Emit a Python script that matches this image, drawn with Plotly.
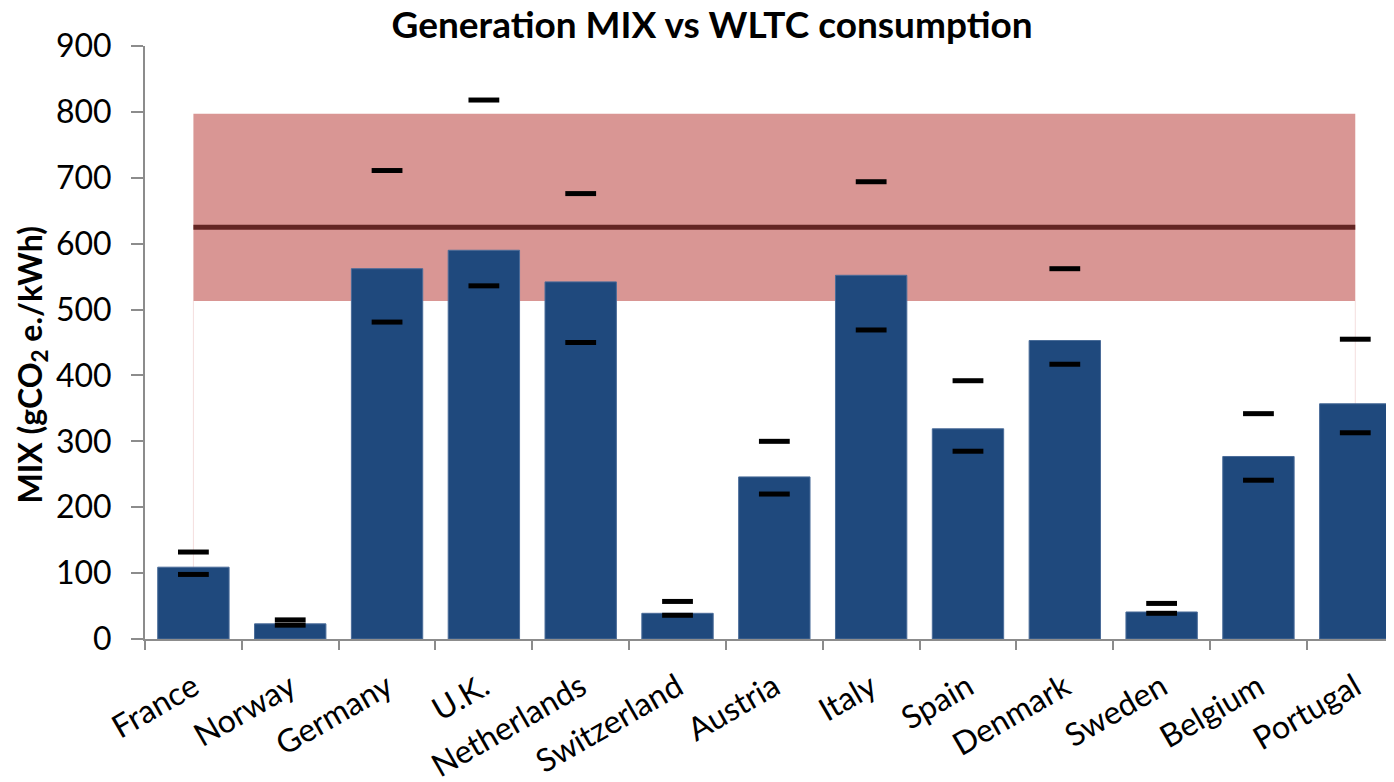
import plotly.graph_objects as go

countries = ["France", "Norway", "Germany", "U.K.", "Netherlands", "Switzerland",
             "Austria", "Italy", "Spain", "Denmark", "Sweden", "Belgium", "Portugal"]
mix_avg = [109, 23, 562, 590, 542, 39, 246, 552, 319, 453, 41, 277, 357]
mix_max = [132, 29, 711, 818, 676, 57, 300, 694, 392, 562, 54, 342, 455]
mix_min = [98, 21, 481, 536, 450, 36, 220, 469, 285, 417, 39, 241, 313]

band_low = 513
band_high = 797
wltc_avg = 625

y_ticks = [0, 100, 200, 300, 400, 500, 600, 700, 800, 900]

FONT = "Lato"
AXIS_GREY = "#8c8c8c"

fig = go.Figure()

fig.add_trace(go.Bar(
    x=countries, y=mix_avg,
    marker=dict(color="#1F497D", line=dict(color="#4a6c99", width=1)),
    showlegend=False,
))

fig.add_trace(go.Scatter(
    x=countries, y=[wltc_avg] * len(countries),
    mode="lines", line=dict(color="#632523", width=5),
    showlegend=False,
))

fig.add_trace(go.Scatter(
    x=countries + countries, y=mix_max + mix_min,
    mode="markers",
    marker=dict(symbol="line-ew", size=22, line=dict(color="black", width=5), color="black"),
    showlegend=False,
))

# WLTC consumption band (behind bars)
fig.add_shape(type="rect", xref="x", yref="y",
              x0=countries[0], x1=countries[-1], y0=band_low, y1=band_high,
              fillcolor="#D99694", line=dict(width=0), layer="below")
for c in (countries[0], countries[-1]):
    fig.add_shape(type="line", xref="x", yref="y",
                  x0=c, x1=c, y0=0, y1=band_low,
                  line=dict(color="#f4dede", width=1), layer="below")

fig.add_annotation(
    text="<b>MIX (gCO<sub>2</sub> e./kWh)</b>",
    xref="paper", yref="paper", x=-0.0905, y=0.463,
    xanchor="center", yanchor="middle", textangle=-90, showarrow=False,
    font=dict(family=FONT, size=32, color="black"),
)

fig.update_layout(
    width=1386, height=774,
    margin=dict(l=137, r=0, t=38, b=143, autoexpand=False),
    plot_bgcolor="white", paper_bgcolor="white",
    bargap=0.263,
    font=dict(family=FONT, color="black"),
    title=dict(text="<b>Generation MIX vs WLTC consumption</b>",
               x=0.508, xanchor="center", y=0.978, yanchor="middle",
               font=dict(family=FONT, size=37, color="black")),
    xaxis=dict(
        range=[-0.5, 12.40], showgrid=False, showline=True, linecolor=AXIS_GREY, linewidth=2,
        ticks="outside", tickson="boundaries", ticklen=9, tickcolor=AXIS_GREY, tickwidth=2,
        tickangle=-30, tickfont=dict(family=FONT, size=32, color="black"),
        ticklabelstandoff=15, automargin=False,
    ),
    yaxis=dict(
        range=[0, 900], tickvals=y_ticks, ticktext=[str(v) for v in y_ticks],
        showgrid=False, zeroline=False, showline=True, linecolor=AXIS_GREY, linewidth=2,
        ticks="outside", ticklen=12, tickcolor=AXIS_GREY, tickwidth=2,
        tickfont=dict(family=FONT, size=32, color="black"),
        ticklabelstandoff=13, automargin=False,
    ),
)

fig.write_html("out.html")
